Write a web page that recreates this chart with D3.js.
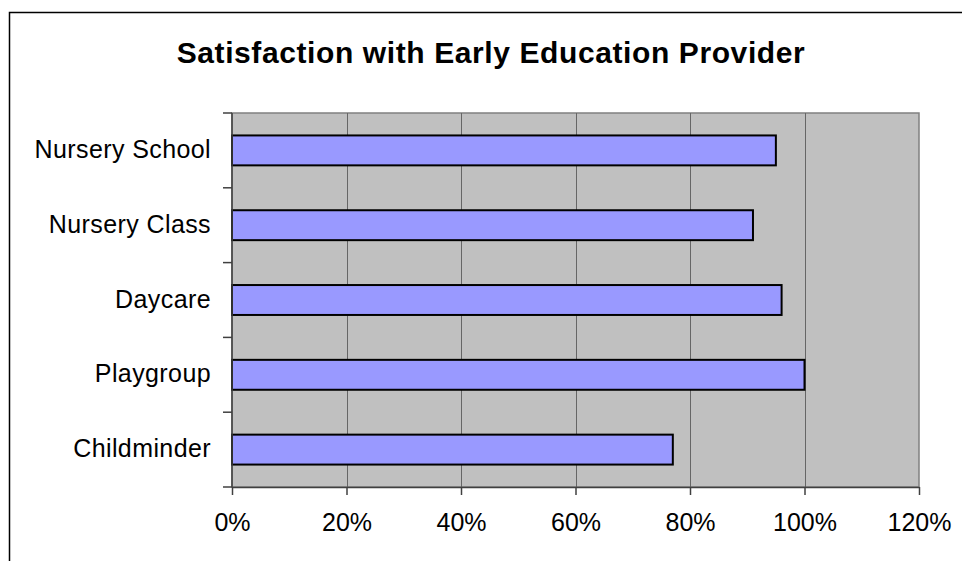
<!DOCTYPE html>
<html>
<head>
<meta charset="utf-8">
<script src="https://cdn.jsdelivr.net/npm/d3@7"></script>
<style>
  html, body { margin: 0; padding: 0; background: #fff; }
  svg { display: block; font-family: "Liberation Sans", Arial, sans-serif; }
</style>
</head>
<body>
<div id="chart"></div>
<script>
const categories = ['Nursery School', 'Nursery Class', 'Daycare', 'Playgroup', 'Childminder'];
const satisfaction = [0.95, 0.91, 0.96, 1.00, 0.77];
const xTicks = [0, 0.2, 0.4, 0.6, 0.8, 1.0, 1.2];
const title = 'Satisfaction with Early Education Provider';

const width = 962, height = 561;
const plot = {left: 232, right: 919, top: 113, bottom: 487};

const svg = d3.select('#chart')
    .append('svg')
    .attr('width', width)
    .attr('height', height);

// outer chart frame (runs past right and bottom edges)
svg.append('rect')
    .attr('x', 9.5)
    .attr('y', 12.5)
    .attr('width', 1000)
    .attr('height', 600)
    .attr('fill', '#fff')
    .attr('stroke', '#000')
    .attr('stroke-width', 1.5);

svg.append('text')
    .attr('x', 491)
    .attr('y', 63)
    .attr('text-anchor', 'middle')
    .style('font-size', '30px')
    .style('font-weight', 'bold')
    .style('letter-spacing', '0.6px')
    .text(title);

const xScale = d3.scaleLinear()
    .domain([0, 1.2])
    .range([plot.left, plot.right]);

const yScale = d3.scaleBand()
    .domain(categories)
    .range([plot.top, plot.bottom])
    .paddingInner(0.6)
    .paddingOuter(0.3);

// plot area background
svg.append('rect')
    .attr('x', plot.left)
    .attr('y', plot.top)
    .attr('width', plot.right - plot.left)
    .attr('height', plot.bottom - plot.top)
    .attr('fill', '#c0c0c0')
    .attr('stroke', '#808080')
    .attr('stroke-width', 1.5);

// vertical gridlines
svg.append('g')
    .selectAll('line')
    .data(xTicks.slice(1, -1))
    .enter().append('line')
    .attr('x1', d => Math.round(xScale(d)) + 0.5)
    .attr('x2', d => Math.round(xScale(d)) + 0.5)
    .attr('y1', plot.top)
    .attr('y2', plot.bottom)
    .attr('stroke', '#666')
    .attr('stroke-width', 1);

// bars
svg.append('g')
    .selectAll('rect')
    .data(categories)
    .enter().append('rect')
    .attr('x', xScale(0))
    .attr('y', d => yScale(d))
    .attr('width', (d, i) => xScale(satisfaction[i]) - xScale(0))
    .attr('height', yScale.bandwidth())
    .attr('fill', '#9999ff')
    .attr('stroke', '#000')
    .attr('stroke-width', 2);

// x axis
const xAxis = svg.append('g')
    .attr('transform', `translate(0, ${plot.bottom})`)
    .call(d3.axisBottom(xScale)
        .tickValues(xTicks)
        .tickFormat(d3.format('.0%'))
        .tickSizeInner(8)
        .tickSizeOuter(0)
        .tickPadding(18));

xAxis.select('.domain').attr('stroke', '#404040').attr('stroke-width', 1.5);
xAxis.selectAll('.tick line').attr('stroke', '#404040').attr('stroke-width', 1.5);
xAxis.selectAll('.tick text')
    .attr('fill', '#000')
    .attr('dy', '0.71em')
    .style('font-size', '25px');

// y axis: ticks sit between categories
const step = yScale.step();
const yEdges = d3.range(categories.length + 1).map(k => plot.top + k * step);

svg.append('line')
    .attr('x1', plot.left)
    .attr('x2', plot.left)
    .attr('y1', plot.top)
    .attr('y2', plot.bottom)
    .attr('stroke', '#404040')
    .attr('stroke-width', 1.5);

svg.append('g')
    .selectAll('line')
    .data(yEdges)
    .enter().append('line')
    .attr('x1', plot.left - 9)
    .attr('x2', plot.left)
    .attr('y1', d => d)
    .attr('y2', d => d)
    .attr('stroke', '#404040')
    .attr('stroke-width', 1.5);

svg.append('g')
    .selectAll('text')
    .data(categories)
    .enter().append('text')
    .attr('x', 211)
    .attr('y', d => yScale(d) + yScale.bandwidth() / 2)
    .attr('dy', '0.3em')
    .attr('text-anchor', 'end')
    .style('font-size', '25px')
    .style('letter-spacing', '0.4px')
    .text(d => d);
</script>
</body>
</html>
